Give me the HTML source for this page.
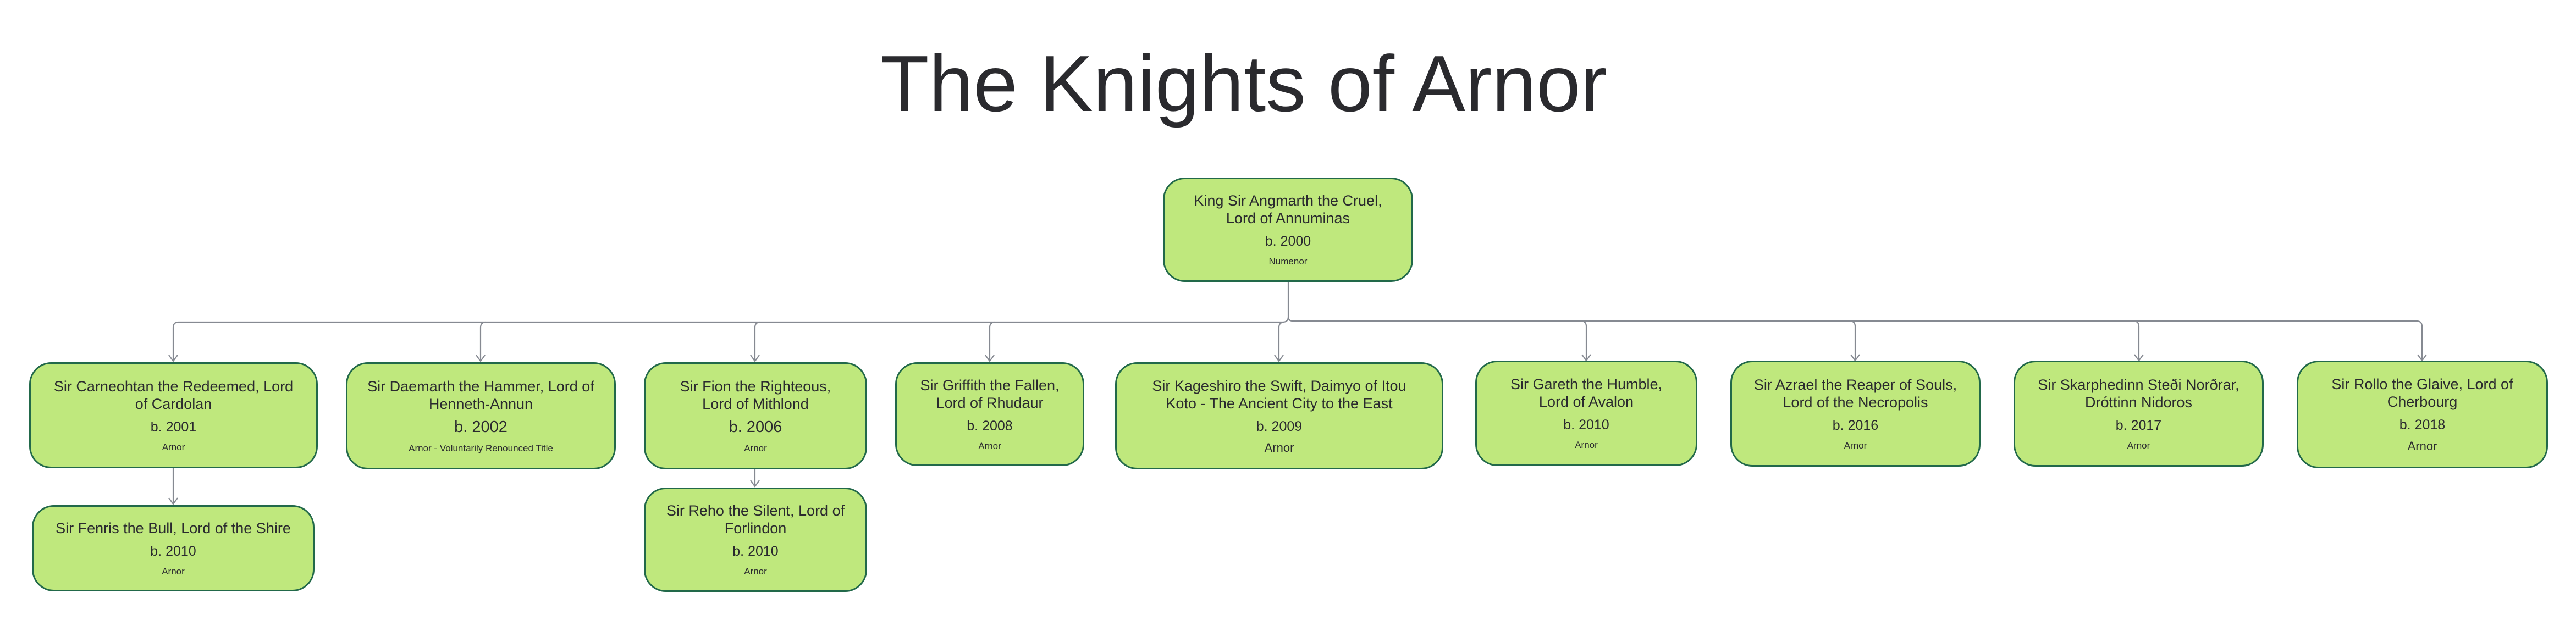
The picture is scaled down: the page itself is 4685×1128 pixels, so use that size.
<!DOCTYPE html>
<html><head><meta charset="utf-8"><style>
html,body{margin:0;padding:0;background:#fff;}
body{width:4685px;height:1128px;position:relative;overflow:hidden;font-family:"Liberation Sans",sans-serif;color:#2a2a2e;}
.t{position:absolute;left:1601px;top:62px;font-size:145px;line-height:180px;white-space:nowrap;}
.b{position:absolute;box-sizing:border-box;background:#bfe87d;border:3px solid #22694a;border-radius:40px;display:flex;flex-direction:column;align-items:center;justify-content:center;text-align:center;white-space:nowrap;}
.n{font-size:27px;line-height:32px;}
.y{font-size:25px;line-height:28px;margin-top:12px;}
.y2{font-size:29px;line-height:32px;margin-top:10px;}
.a{font-size:17px;line-height:22px;margin-top:12px;}
.a2{font-size:22px;line-height:26px;margin-top:12px;}
svg{position:absolute;left:0;top:0;}
</style></head><body>
<div class="t">The Knights of Arnor</div>
<svg width="4685" height="1128" viewBox="0 0 4685 1128" fill="none" stroke="#868a92" stroke-width="2.2">
<path d="M2343 513 V576 Q2343 584 2351 584 H4395 Q4405 584 4405 594 V656"/>
<path d="M2343 576 Q2343 586 2333 586 H325 Q315 586 315 596 V657"/>
<path d="M874 596 Q874 586 884 586"/><path d="M874 596 V657"/>
<path d="M1373 596 Q1373 586 1383 586"/><path d="M1373 596 V657"/>
<path d="M1800 596 Q1800 586 1810 586"/><path d="M1800 596 V657"/>
<path d="M2326 596 Q2326 586 2336 586"/><path d="M2326 596 V657"/>
<path d="M2885 594 Q2885 584 2875 584"/><path d="M2885 594 V656"/>
<path d="M3374 594 Q3374 584 3364 584"/><path d="M3374 594 V656"/>
<path d="M3890 594 Q3890 584 3880 584"/><path d="M3890 594 V656"/>
<path d="M315 852 V917"/><path d="M1373 854 V885"/>
<g stroke-width="2.2">
<path d="M307 646 L315 657 L323 646"/><path d="M866 646 L874 657 L882 646"/><path d="M1365 646 L1373 657 L1381 646"/>
<path d="M1792 646 L1800 657 L1808 646"/><path d="M2318 646 L2326 657 L2334 646"/><path d="M2877 645 L2885 656 L2893 645"/>
<path d="M3366 645 L3374 656 L3382 645"/><path d="M3882 645 L3890 656 L3898 645"/><path d="M4397 645 L4405 656 L4413 645"/>
<path d="M307 906 L315 917 L323 906"/><path d="M1365 874 L1373 885 L1381 874"/>
</g>
</svg>
<div class="b" style="left:2115px;top:323px;width:455px;height:190px"><div class="n">King Sir Angmarth the Cruel,<br>Lord of Annuminas</div><div class="y">b. 2000</div><div class="a">Numenor</div></div>
<div class="b" style="left:53px;top:659px;width:525px;height:193px"><div class="n">Sir Carneohtan the Redeemed, Lord<br>of Cardolan</div><div class="y">b. 2001</div><div class="a">Arnor</div></div>
<div class="b" style="left:629px;top:659px;width:491px;height:195px"><div class="n">Sir Daemarth the Hammer, Lord of<br>Henneth-Annun</div><div class="y2">b. 2002</div><div class="a">Arnor - Voluntarily Renounced Title</div></div>
<div class="b" style="left:1171px;top:659px;width:406px;height:195px"><div class="n">Sir Fion the Righteous,<br>Lord of Mithlond</div><div class="y2">b. 2006</div><div class="a">Arnor</div></div>
<div class="b" style="left:1628px;top:659px;width:344px;height:189px"><div class="n">Sir Griffith the Fallen,<br>Lord of Rhudaur</div><div class="y">b. 2008</div><div class="a">Arnor</div></div>
<div class="b" style="left:2028px;top:659px;width:597px;height:195px"><div class="n">Sir Kageshiro the Swift, Daimyo of Itou<br>Koto - The Ancient City to the East</div><div class="y">b. 2009</div><div class="a2">Arnor</div></div>
<div class="b" style="left:2683px;top:656px;width:404px;height:192px"><div class="n">Sir Gareth the Humble,<br>Lord of Avalon</div><div class="y">b. 2010</div><div class="a">Arnor</div></div>
<div class="b" style="left:3147px;top:656px;width:455px;height:193px"><div class="n">Sir Azrael the Reaper of Souls,<br>Lord of the Necropolis</div><div class="y">b. 2016</div><div class="a">Arnor</div></div>
<div class="b" style="left:3662px;top:656px;width:455px;height:193px"><div class="n">Sir Skarphedinn Steði Norðrar,<br>Dróttinn Nidoros</div><div class="y">b. 2017</div><div class="a">Arnor</div></div>
<div class="b" style="left:4177px;top:656px;width:457px;height:196px"><div class="n">Sir Rollo the Glaive, Lord of<br>Cherbourg</div><div class="y">b. 2018</div><div class="a2">Arnor</div></div>
<div class="b" style="left:58px;top:919px;width:514px;height:157px"><div class="n">Sir Fenris the Bull, Lord of the Shire</div><div class="y">b. 2010</div><div class="a">Arnor</div></div>
<div class="b" style="left:1171px;top:887px;width:406px;height:190px"><div class="n">Sir Reho the Silent, Lord of<br>Forlindon</div><div class="y">b. 2010</div><div class="a">Arnor</div></div>
</body></html>
